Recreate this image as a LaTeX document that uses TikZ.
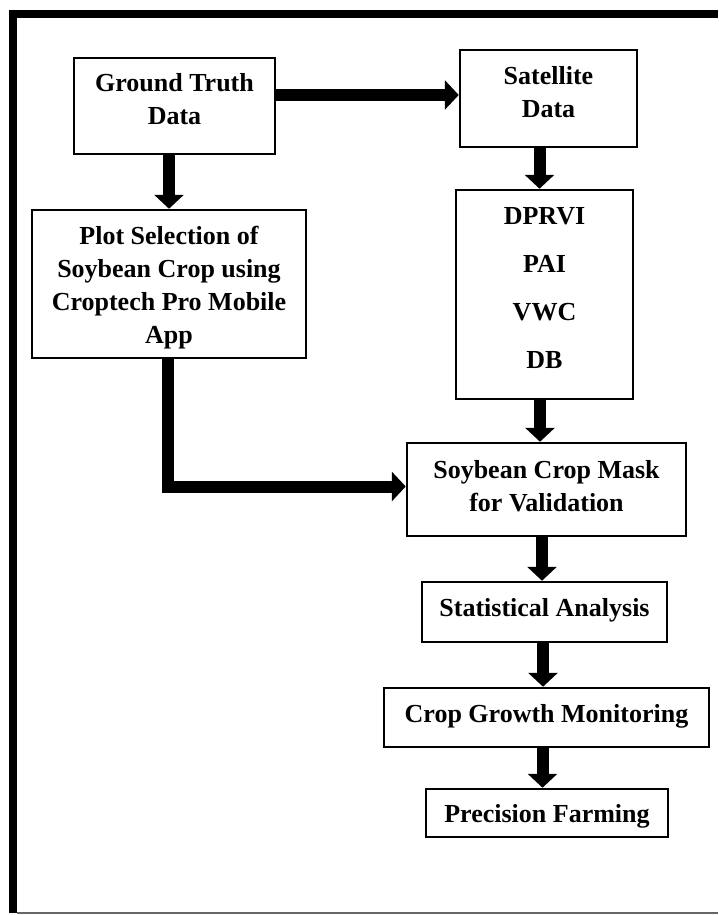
\documentclass[tikz,border=0pt]{standalone}
\usepackage{fontspec}
\setmainfont{Liberation Serif}
\usetikzlibrary{arrows.meta}
\begin{document}
\begin{tikzpicture}[x=1pt,y=-1pt,
  box/.style={draw=black,line width=2.5pt,rectangle,inner sep=0pt},
  txt/.style={align=center,inner sep=0pt,font=\fontsize{26}{33}\selectfont\bfseries},
  fat/.style={line width=12pt,-{Triangle[width=29pt,length=14pt]}}]
\fill[white] (0,0) rectangle (718,915);
\useasboundingbox (0,0) rectangle (718,915);
% outer frame
\draw[line width=8pt] (9,14.5) -- (718,14.5);
\draw[line width=8pt] (13,10.5) -- (13,913);
\draw[line width=1.5pt,black!60] (17,913) -- (718,913);
% boxes
\node[box,minimum width=201pt,minimum height=96pt,
  label={[txt,name=gtl,yshift=7pt]center:Ground Truth\\Data}] (gt) at (174.5,106) {};
\node[box,minimum width=177pt,minimum height=97pt,
  label={[txt,name=satl,yshift=6pt]center:Satellite\\Data}] (sat) at (548.5,98.5) {};
\node[box,minimum width=274pt,minimum height=148pt,
  label={[txt,name=plotl,yshift=-4pt]center:Plot Selection of\\Soybean Crop using\\Croptech Pro Mobile\\App}] (plot) at (169,284) {};
\node[box,minimum width=177pt,minimum height=209pt,
  label={[txt,name=idxl,yshift=6pt,font=\fontsize{26}{48}\selectfont\bfseries]center:DPRVI\\PAI\\VWC\\DB}] (idx) at (544.5,294.5) {};
\node[box,minimum width=279pt,minimum height=93pt,
  label={[txt,name=maskl,yshift=3.5pt]center:Soybean Crop Mask\\for Validation}] (mask) at (546.5,489.5) {};
\node[box,minimum width=245pt,minimum height=60pt,
  label={[txt,name=statl,yshift=2pt]center:Statistical Analysis}] (stat) at (544.5,612) {};
\node[box,minimum width=325pt,minimum height=59pt,
  label={[txt,name=cropl,yshift=1pt]center:Crop Growth Monitoring}] (crop) at (546.5,717.5) {};
\node[box,minimum width=242pt,minimum height=48pt,
  label={[txt,name=precl,yshift=-3pt]center:Precision Farming}] (prec) at (547,813) {};
% arrows
\draw[fat] ([yshift=3.5pt]sat.west -| gt.east) -- ([yshift=3.5pt]sat.west);
\draw[fat] (gt.south -| plot.north) -- (plot.north);
\draw[fat] ([xshift=-5pt]sat.south -| idx.north) -- ([xshift=-5pt]idx.north);
\draw[fat] ([xshift=-4.5pt]idx.south) -- ([xshift=-4.5pt]idx.south |- mask.north);
\draw[fat] ([xshift=-4.5pt]mask.south) -- ([xshift=-4.5pt]mask.south |- stat.north);
\draw[fat] ([xshift=-1.5pt]stat.south) -- ([xshift=-1.5pt]stat.south |- crop.north);
\draw[fat] ([xshift=-4pt]crop.south) -- ([xshift=-4pt]crop.south |- prec.north);
\draw[fat] ([xshift=-1pt]plot.south) |- ([yshift=3pt]mask.west);
\end{tikzpicture}
\end{document}
